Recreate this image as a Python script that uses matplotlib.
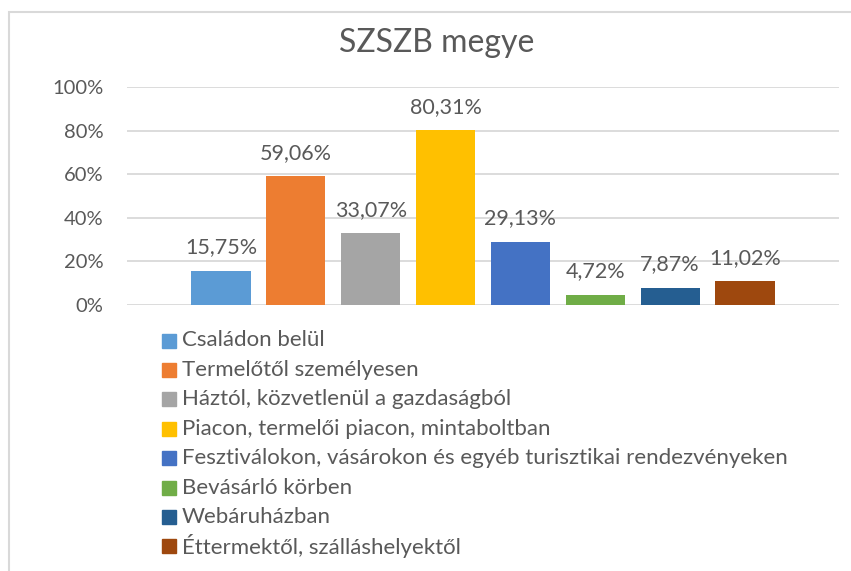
import matplotlib
matplotlib.use('Agg')
import matplotlib.pyplot as plt
from matplotlib.patches import Rectangle

plt.rcParams['font.family'] = ['Lato', 'DejaVu Sans']

# data
categories = ['Családon belül', 'Termelőtől személyesen', 'Háztól, közvetlenül a gazdaságból',
              'Piacon, termelői piacon, mintaboltban',
              'Fesztiválokon, vásárokon és egyéb turisztikai rendezvényeken',
              'Bevásárló körben', 'Webáruházban', 'Éttermektől, szálláshelyektől']
values = [15.75, 59.06, 33.07, 80.31, 29.13, 4.72, 7.87, 11.02]
colors = ['#5B9BD5', '#ED7D31', '#A5A5A5', '#FFC000', '#4472C4', '#70AD47', '#255E91', '#9E480E']
yticks = [0, 20, 40, 60, 80, 100]

txt = '#595959'
grid = '#D9D9D9'

fig = plt.figure(figsize=(8.51, 5.71), dpi=100)
W, H = 851, 571
ax = fig.add_axes([127 / W, 1 - 305 / H, (839 - 127) / W, (305 - 87.3) / H])

# chart border (cut off at right and bottom in the reference)
fig.add_artist(Rectangle((9 / W, -0.1), 1.2, 1 - 12 / H + 0.1, transform=fig.transFigure,
                         fill=False, edgecolor=grid, lw=1.5))

for i, (v, c) in enumerate(zip(values, colors)):
    ax.bar(i, v, width=0.79, color=c, zorder=3)
    ax.annotate(f'{v:.2f}%'.replace('.', ','), (i, v), xytext=(0, 12.5), textcoords='offset points',
                ha='center', va='baseline', fontsize=15.5, color=txt)

ax.set_xlim(-1.255, 8.255)
ax.set_ylim(0, 100)
ax.set_yticks(yticks)
ax.set_yticklabels([f'{t}%' for t in yticks], fontsize=14.5, color=txt)
ax.set_xticks([])
ax.tick_params(axis='y', length=0, pad=17)
for s in ax.spines.values():
    s.set_visible(False)
ax.grid(axis='y', color=grid, lw=1.3, zorder=0)

fig.text(437 / W, 1 - 52 / H, 'SZSZB megye', ha='center', va='baseline', fontsize=23, color=txt)

# legend, one row per category
for i, (lab, c) in enumerate(zip(categories, colors)):
    yc = 340.5 + i * 29.4
    fig.add_artist(Rectangle((162 / W, 1 - (yc + 7) / H), 14 / W, 14 / H,
                             transform=fig.transFigure, color=c))
    fig.text(182 / W, 1 - yc / H, lab, ha='left', va='center', fontsize=16, color=txt)

fig.savefig('out.png', dpi=100)
